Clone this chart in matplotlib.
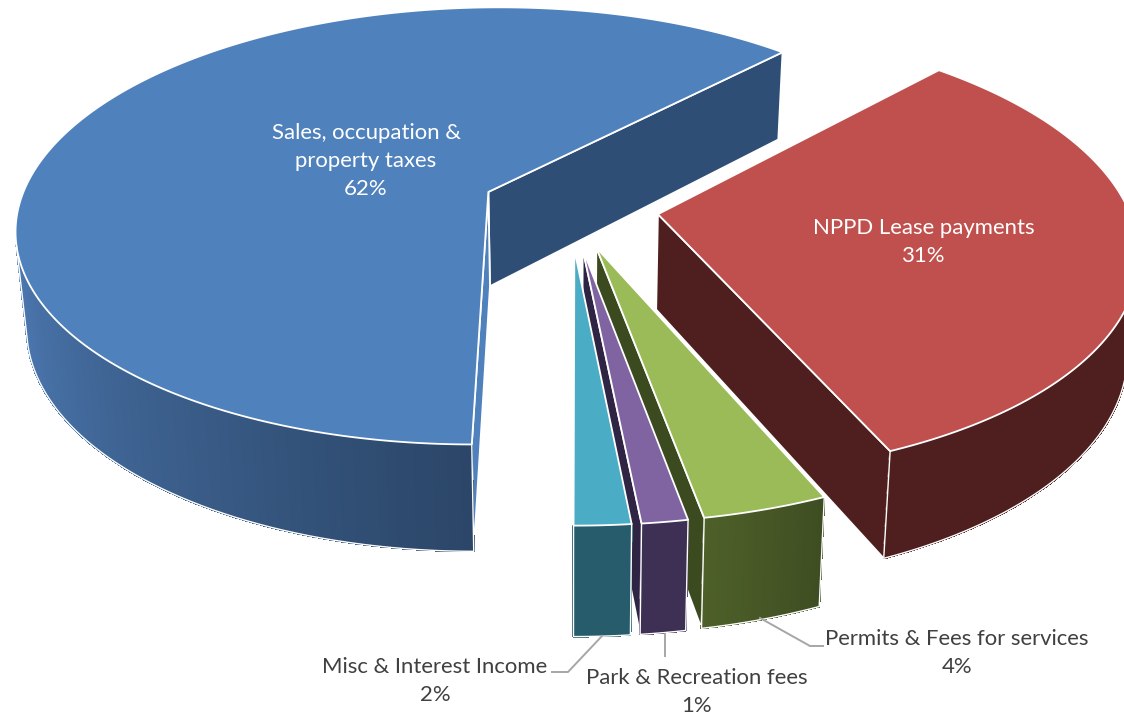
import numpy as np
import matplotlib
matplotlib.use("Agg")
import matplotlib.pyplot as plt
from matplotlib.patches import Polygon

# ---- data ----
categories = ["Sales, occupation &\nproperty taxes", "Misc & Interest Income",
              "Park & Recreation fees", "Permits & Fees for services", "NPPD Lease payments"]
values = [61.8, 1.6, 1.3, 3.56, 31.49]
top_colors = ["#4F81BD", "#4BACC6", "#8064A2", "#9BBB59", "#C0504D"]
side_near = ["#2B4668", "#265C6B", "#3E2F55", "#3F4E22", "#4E1F1E"]
side_far = ["#4D7AB3", "#265C6B", "#3E2F55", "#4E6029", "#4E1F1E"]
radial_colors = ["#2F4E75", "#265C6B", "#302444", "#3C4A20", "#4E1F1E"]
label_xy = [(366, 161), (435, 681), (697, 692), (957, 653), (924, 242)]
label_colors = ["white", "#404040", "#404040", "#404040", "white"]
leaders = [None,
           [(602, 636), (568, 672), (552, 672)],
           [(665, 634), (665, 656)],
           [(760, 618), (810, 646), (823, 646)],
           None]
start_angle = 46.8
explode = 0.189

# ---- projection parameters ----
CX, CY, A, B, K = 570.0, 207.0, 470.0, 218.0, 0.157


def top_xy(X, Y):
    w = 1 + K * Y
    return CX + A * X / w, CY - B * Y / w


def bottom_xy(X, Y):
    x, y = top_xy(X, Y)
    return CX + 0.98 * (x - CX), y + 95 + 0.05 * (y - CY)


def area(p):
    p = np.asarray(p)
    x, y = p[:, 0], p[:, 1]
    return 0.5 * np.sum(x * np.roll(y, -1) - np.roll(x, -1) * y)


plt.rcParams['font.family'] = ['Lato', 'DejaVu Sans']
fig = plt.figure(figsize=(11.24, 7.17), dpi=100)
ax = fig.add_axes([0, 0, 1, 1])
ax.set_xlim(0, 1124)
ax.set_ylim(717, 0)
ax.axis("off")

EDGE = dict(edgecolor="white", linewidth=1.3, joinstyle="round")


def draw_slice(i, a0, a1):
    mid = np.radians((a0 + a1) / 2)
    ox, oy = explode * np.cos(mid), explode * np.sin(mid)
    th = np.radians(np.linspace(a0, a1, max(int((a1 - a0) * 2), 6)))
    X, Y = ox + np.cos(th), oy + np.sin(th)
    tp = np.array([top_xy(x, y) for x, y in zip(X, Y)])
    bt = np.array([bottom_xy(x, y) for x, y in zip(X, Y)])
    at, ab = np.array(top_xy(ox, oy)), np.array(bottom_xy(ox, oy))
    # radial walls (only the ones that face the viewer)
    for tk, bk, sign in ((tp[0], bt[0], -1), (tp[-1], bt[-1], 1)):
        quad = [at, tk, bk, ab]
        if area(quad) * sign < 0:
            lighter = i == 0 and sign == 1
            ax.add_patch(Polygon(quad, closed=True,
                                 facecolor=top_colors[0] if lighter else radial_colors[i],
                                 **EDGE))
    # outer wall: facing facets only, shaded across the visible arc
    idx = [k for k in range(len(tp) - 1)
           if area([tp[k], tp[k + 1], bt[k + 1], bt[k]]) > 0]
    if idx:
        c0 = np.array(matplotlib.colors.to_rgb(side_far[i]))
        c1 = np.array(matplotlib.colors.to_rgb(side_near[i]))
        for n, k in enumerate(idx):
            t = n / max(len(idx) - 1, 1)
            c = c0 + (c1 - c0) * t
            ax.add_patch(Polygon([tp[k], tp[k + 1], bt[k + 1], bt[k]], closed=True,
                                 facecolor=c, edgecolor=c, linewidth=0.8, antialiased=False))
        ol = np.vstack([tp[idx[0]], bt[idx[0]:idx[-1] + 2], tp[idx[-1] + 1]])
        ax.plot(ol[:, 0], ol[:, 1], color="white", lw=1.0)
    # top surface
    ax.add_patch(Polygon(np.vstack([at, tp]), closed=True, facecolor=top_colors[i], **EDGE))


angles = start_angle + np.concatenate([[0], np.cumsum(values)]) / np.sum(values) * 360
for i in [0, 4, 3, 2, 1]:
    draw_slice(i, angles[i], angles[i + 1])

for pts in leaders:
    if pts:
        ax.plot(*zip(*pts), color="#A6A6A6", lw=1.4)

for i, name in enumerate(categories):
    ax.text(label_xy[i][0], label_xy[i][1], f"{name}\n{values[i]:.0f}%", ha="center", va="center",
            fontsize=15.9, color=label_colors[i], linespacing=1.5)

fig.savefig("out.png", dpi=100)
